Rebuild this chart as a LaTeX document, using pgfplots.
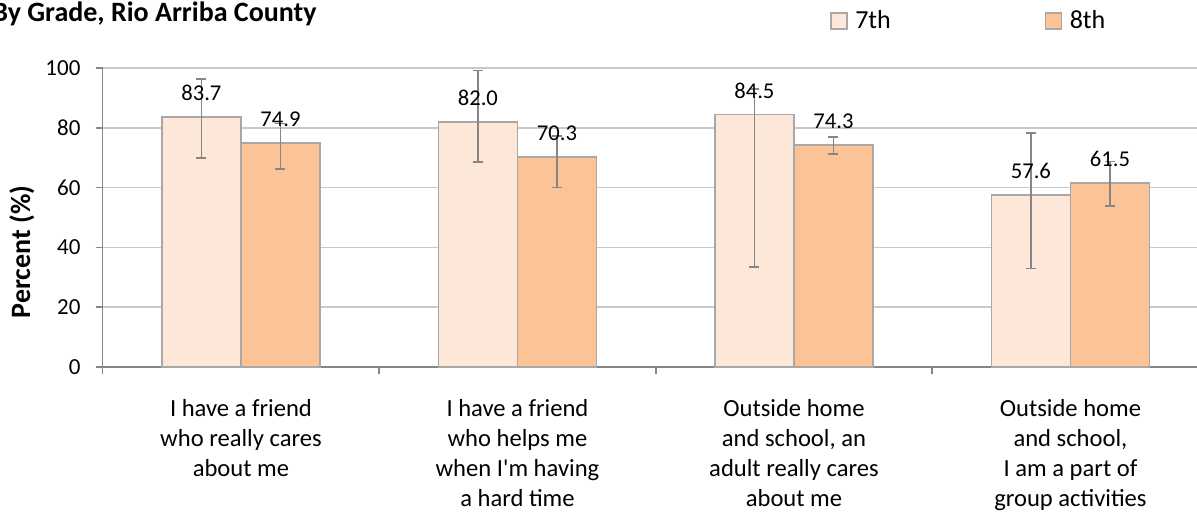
\documentclass[border=0pt]{standalone}
\usepackage{fontspec}
\setmainfont{Carlito}
\usepackage{pgfplots}
\pgfplotsset{compat=1.18}
\definecolor{c7}{HTML}{FDE7D9}
\definecolor{c8}{HTML}{FBC396}
\definecolor{bord}{HTML}{A8A8A8}
\definecolor{errc}{HTML}{868686}
\definecolor{gridc}{HTML}{C8C8C8}
\definecolor{axisc}{HTML}{868686}
\begin{document}
\begin{tikzpicture}
\begin{axis}[
  name=ax,
  scale only axis, width=553pt, height=149.5pt,
  xmin=-0.5, xmax=3.5, ymin=0, ymax=100,
  ytick={0,20,...,100},
  xtick={0,1,2,3},
  xticklabels={{I have a friend\\who really cares\\about me},
               {I have a friend\\who helps me\\when I\textquotesingle m having\\a hard time},
               {Outside home\\and school, an\\adult really cares\\about me},
               {Outside home\\and school,\\I am a part of\\group activities}},
  xticklabel style={align=center, font=\fontsize{12.3}{15}\selectfont, yshift=-9pt},
  major x tick style={draw=none},
  minor xtick={-0.5,0.5,1.5,2.5,3.5},
  minor x tick style={axisc, line width=0.8pt},
  major y tick style={axisc, line width=0.8pt},
  tick align=outside,
  major tick length=3.5pt, minor tick length=3.5pt,
  yticklabel style={font=\fontsize{11.5}{13}\selectfont, xshift=-4.1pt},
  /pgf/number format/assume math mode=true,
  axis x line*=bottom, axis y line*=left,
  axis line style={axisc, line width=0.8pt},
  ymajorgrids, grid style={gridc, line width=0.8pt},
  ybar, bar width=0.286,
  nodes near coords={\pgfmathprintnumber[fixed,fixed zerofill,precision=1]{\pgfplotspointmeta}},
  every node near coord/.append style={font=\fontsize{11.3}{13}\selectfont, black, yshift=4.3pt},
  legend columns=2,
  legend entries={7th,8th},
  legend style={at={(axis description cs:0.6576,1.157)}, anchor=west, draw=none, fill=none,
    inner sep=0pt, font=\fontsize{13}{15}\selectfont, nodes={inner sep=1pt},
    /tikz/every even column/.append style={column sep=76pt}},
  legend image code/.code={\draw[#1] (0pt,-4pt) rectangle (8pt,4pt); \path (10.65pt,0pt);},
  ylabel={Percent (\%)},
  ylabel style={at={(axis description cs:-0.073,0.385)}, anchor=center,
    font=\bfseries\fontsize{14}{16}\selectfont},
]
\addplot[bar shift=-0.143, fill=c7, draw=bord, line width=0.8pt,
  error bars/.cd, y dir=both, y explicit,
  error bar style={errc, line width=0.8pt},
  error mark options={errc, rotate=90, mark size=2.5pt, line width=0.8pt}]
  coordinates {(0,83.7) += (0,12.7) -= (0,13.7)
               (1,82.0) += (0,17.1) -= (0,13.5)
               (2,84.5) += (0,8.4) -= (0,51.0)
               (3,57.6) += (0,20.6) -= (0,24.6)};
\addplot[bar shift=0.143, fill=c8, draw=bord, line width=0.8pt,
  error bars/.cd, y dir=both, y explicit,
  error bar style={errc, line width=0.8pt},
  error mark options={errc, rotate=90, mark size=2.5pt, line width=0.8pt}]
  coordinates {(0,74.9) += (0,6.6) -= (0,8.6)
               (1,70.3) += (0,7.0) -= (0,10.3)
               (2,74.3) += (0,2.7) -= (0,3.1)
               (3,61.5) += (0,7.2) -= (0,7.6)};
\end{axis}
\node[anchor=base east, inner sep=0pt, font=\bfseries\fontsize{14}{16}\selectfont]
  at ([shift={(107.15pt,172.5pt)}]ax.south west) {By Grade, Rio Arriba County};
\pgfresetboundingbox
\useasboundingbox ([shift={(-51.35pt,-76.5pt)}]ax.south west) rectangle ([shift={(547.15pt,183.5pt)}]ax.south west);
\end{tikzpicture}
\end{document}
